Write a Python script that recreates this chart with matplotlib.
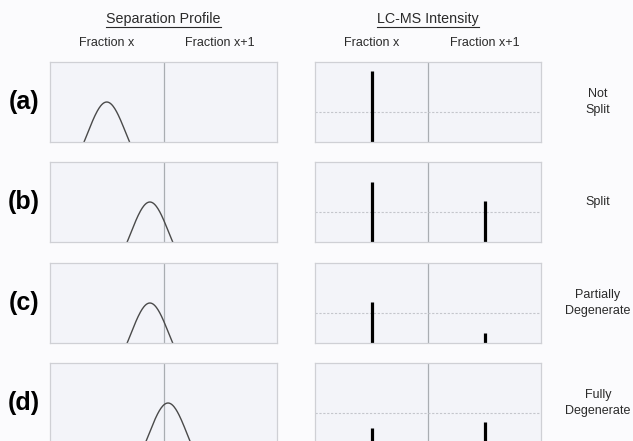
import numpy as np
import matplotlib
matplotlib.use("Agg")
import matplotlib.pyplot as plt
from matplotlib.lines import Line2D

plt.rcParams['font.family'] = ['Liberation Sans', 'DejaVu Sans']

# data
row_labels = ['(a)', '(b)', '(c)', '(d)']
outcomes = ['Not\nSplit', 'Split', 'Partially\nDegenerate', 'Fully\nDegenerate']
peak_centers = [0.50, 0.88, 0.88, 1.04]          # elution peak apex (fraction units)
peak_sigma = 0.17
intensity_x = [0.89, 0.75, 0.51, 0.19]           # LC-MS intensity in fraction x
intensity_x1 = [0.0, 0.51, 0.125, 0.26]          # LC-MS intensity in fraction x+1
grid_level = 0.37
col_headers = ['Fraction x', 'Fraction x+1']

W, H = 633, 441
fig = plt.figure(figsize=(W / 100, H / 100), dpi=100)
fig.patch.set_facecolor('#fbfbfd')

panel_bg = '#f3f4f9'
border = '#cfd0d5'
divider = '#a9adb2'
txt = '#2a2a2a'

row_tops = [62, 162, 263, 363]
row_h = 80
left_x0, left_x1 = 50, 277
right_x0, right_x1 = 315, 541


def make_axes(x0, x1, top):
    ax = fig.add_axes([x0 / W, 1 - (top + row_h) / H, (x1 - x0) / W, row_h / H])
    ax.set_facecolor(panel_bg)
    ax.set_xticks([])
    ax.set_yticks([])
    for s in ax.spines.values():
        s.set_color(border)
        s.set_linewidth(0.9)
    ax.set_xlim(0, 2)
    ax.axvline(1, color=divider, lw=0.9)
    return ax


xs = np.linspace(-0.5, 2.5, 600)
for i, top in enumerate(row_tops):
    # separation profile
    ax = make_axes(left_x0, left_x1, top)
    ys = np.exp(-(xs - peak_centers[i]) ** 2 / (2 * peak_sigma ** 2))
    ax.plot(xs, ys, color='#4a4a4a', lw=1.0)
    ax.set_ylim(0.5, 1.5)

    # LC-MS intensity
    ax2 = make_axes(right_x0, right_x1, top)
    ax2.set_ylim(0, 1)
    ax2.axhline(grid_level, color='#c4c6cc', lw=0.8, ls=(0, (2, 1.5)))
    ax2.vlines([0.5, 1.5], 0, [intensity_x[i], intensity_x1[i]],
               color='black', lw=2.3)

    yc = 1 - (top + row_h / 2) / H
    fig.text(24 / W, yc, row_labels[i], fontsize=18, fontweight='bold',
             ha='center', va='center')
    fig.text(598 / W, yc, outcomes[i], fontsize=9, ha='center', va='center',
             color=txt, linespacing=1.45)

# headers
fig.canvas.draw()
renderer = fig.canvas.get_renderer()
for title, cx0, cx1 in [('Separation Profile', left_x0, left_x1),
                        ('LC-MS Intensity', right_x0, right_x1)]:
    mid = (cx0 + cx1) / 2
    t = fig.text(mid / W, 1 - 19 / H, title, fontsize=10.3, ha='center',
                 va='center', color=txt)
    bb = t.get_window_extent(renderer)
    uy = (bb.y0 - 0.5) / H
    fig.add_artist(Line2D([bb.x0 / W, bb.x1 / W], [uy, uy],
                          color=txt, lw=0.8))
    qw = (cx1 - cx0) / 4
    for j, lab in enumerate(col_headers):
        fig.text((cx0 + qw * (1 + 2 * j)) / W, 1 - 43 / H, lab, fontsize=9,
                 ha='center', va='center', color=txt)

fig.savefig('out.png', dpi=100, facecolor=fig.get_facecolor())
